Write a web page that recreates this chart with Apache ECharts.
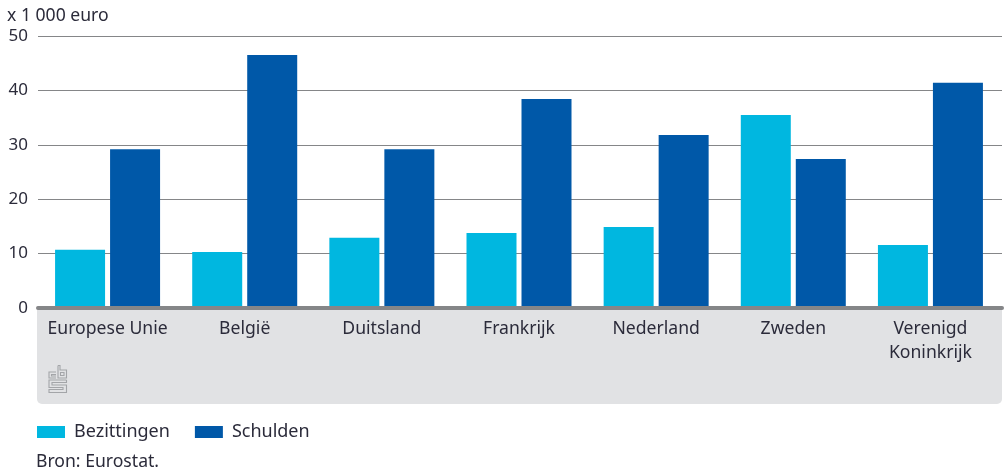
<!DOCTYPE html>
<html><head><meta charset="utf-8">
<style>html,body{margin:0;padding:0;background:#fff}#c{width:1008px;height:472px}</style>
<script src="https://cdn.jsdelivr.net/npm/echarts@6/dist/echarts.min.js"></script>
</head><body><div id="c"></div>
<script>
const categories = ['Europese Unie','België','Duitsland','Frankrijk','Nederland','Zweden','Verenigd\nKoninkrijk'];
const bezittingen = [10.7,10.3,12.9,13.8,14.9,35.5,11.6];
const schulden = [29.2,46.5,29.2,38.4,31.8,27.4,41.4];
const yTicks = {min:0,max:50,interval:10};
const FONT = '"Noto Sans"';
const TXT = '#2b2b3a';
const chart = echarts.init(document.getElementById('c'), null, {renderer:'canvas'});
const logoStroke = {stroke:'#a3a5a8', lineWidth:1.1, fill:null};
chart.setOption({
  animation:false,
  textStyle:{fontFamily:FONT,color:TXT},
  title:[
    {text:'x 1 000 euro',left:7,top:7,textStyle:{fontFamily:FONT,fontSize:17.6,fontWeight:'normal',color:TXT},padding:0},
    {text:'Bron: Eurostat.',left:36,top:453,textStyle:{fontFamily:FONT,fontSize:17.6,fontWeight:'normal',color:TXT},padding:0}
  ],
  legend:{left:37,top:423,padding:0,itemWidth:28,itemHeight:12,itemGap:25,icon:'rect',
    textStyle:{fontFamily:FONT,fontSize:18,color:TXT,padding:[0,0,0,4]},
    data:['Bezittingen','Schulden']},
  grid:[
    {left:39,width:960,top:36,height:272},
    {left:38,right:6,top:36,height:272}
  ],
  xAxis:[
    {type:'category',gridIndex:0,data:categories,axisLine:{show:false},axisTick:{show:false},
     axisLabel:{fontFamily:FONT,fontSize:17.6,color:TXT,margin:9,lineHeight:24,interval:0}},
    {type:'category',gridIndex:1,data:[''],z:6,axisLine:{show:true,lineStyle:{color:'#858688',width:4}},axisTick:{show:false},axisLabel:{show:false}}
  ],
  yAxis:[
    {type:'value',gridIndex:0,min:yTicks.min,max:yTicks.max,interval:yTicks.interval,show:false},
    {type:'value',gridIndex:1,min:yTicks.min,max:yTicks.max,interval:yTicks.interval,
     axisLine:{show:false},axisTick:{show:false},
     axisLabel:{fontFamily:FONT,fontSize:17,color:TXT,margin:10,padding:[2,0,0,0]},
     splitLine:{show:true,lineStyle:{color:'#858688',width:1}}}
  ],
  series:[
    {name:'Bezittingen',type:'bar',xAxisIndex:0,yAxisIndex:0,data:bezittingen,barWidth:50,barGap:'10%',itemStyle:{color:'#00b7e0'}},
    {name:'Schulden',type:'bar',xAxisIndex:0,yAxisIndex:0,data:schulden,barWidth:50,barGap:'10%',itemStyle:{color:'#0058a8'}}
  ],
  graphic:[
    {type:'rect',z:-10,shape:{x:37,y:306,width:965,height:98,r:[0,0,5,5]},style:{fill:'#e1e2e4'}},
    {type:'group',z:-5,x:48,y:365,children:[
      {type:'polyline',shape:{points:[[8,7],[1,7],[1,13],[8,13]]},style:logoStroke},
      {type:'polyline',shape:{points:[[8,9.5],[3.5,9.5],[3.5,11],[8,11]]},style:logoStroke},
      {type:'polyline',shape:{points:[[10,0.5],[10,13],[18.5,13],[18.5,5],[12,5],[12,0.5],[10,0.5]]},style:logoStroke},
      {type:'rect',shape:{x:12.5,y:7.5,width:3.5,height:3},style:logoStroke},
      {type:'polyline',shape:{points:[[18.5,15],[1,15],[1,22.5],[15,22.5],[15,24.5],[1,24.5],[1,27.5],[18.5,27.5],[18.5,20],[4,20],[4,17.5],[18.5,17.5],[18.5,15]]},style:logoStroke}
    ]}
  ]
});
</script></body></html>
